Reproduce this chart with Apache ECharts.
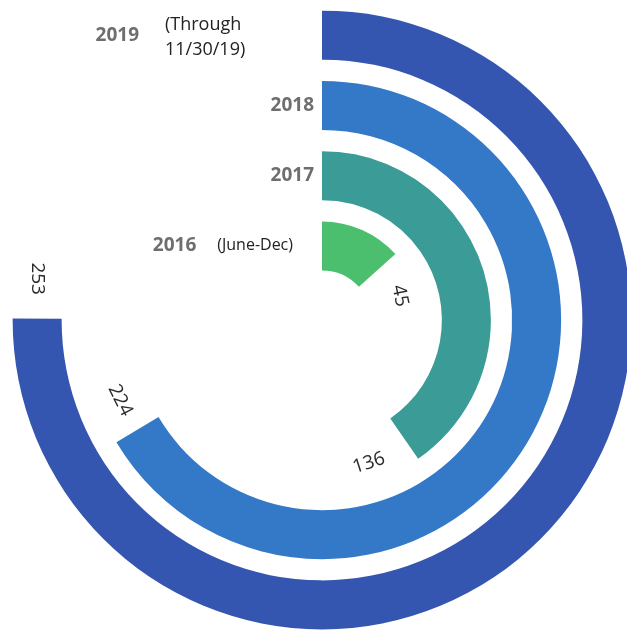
<!DOCTYPE html>
<html>
<head>
<meta charset="utf-8">
<script src="https://cdn.jsdelivr.net/npm/echarts@6/dist/echarts.min.js"></script>
<style>
  html, body { margin: 0; padding: 0; background: #ffffff; }
  #chart { width: 627px; height: 633px; }
</style>
</head>
<body>
<div id="chart"></div>
<script>
// Yearly totals, innermost ring first
const years = ['2016', '2017', '2018', '2019'];
const counts = [45, 136, 224, 253];
const ringColors = ['#4cbf6e', '#3a9b97', '#3478c8', '#3556b0'];
// Tilt of each value label (degrees, counter-clockwise positive)
const countLabelTilt = [-78, 18, -63, -90];
// How far past the end of its ring each value label sits (px)
const countLabelGap = [34, 43, 34, 40];

const chart = echarts.init(document.getElementById('chart'), null, { renderer: 'canvas' });

const labelFont = 'Open Sans';

const option = {
  animation: false,
  backgroundColor: '#ffffff',
  polar: {
    center: [322, 320],
    radius: [39, 320]
  },
  angleAxis: {
    type: 'value',
    min: 0,
    max: 337,
    startAngle: 90,
    clockwise: true,
    show: false
  },
  radiusAxis: {
    type: 'category',
    data: years,
    axisLine: { show: false },
    axisTick: { show: false },
    splitLine: { show: false },
    axisLabel: {
      interval: 0,
      hideOverlap: false,
      margin: 8,
      formatter: function (v) {
        if (v === '2016') return '{y16|' + v + '}{note|(June-Dec)}';
        if (v === '2019') return '{y19|' + v + '}';
        return '{y|' + v + '}';
      },
      rich: {
        y: { fontFamily: labelFont, fontWeight: 'bold', fontSize: 19, color: '#6e6e6e' },
        y16: { fontFamily: labelFont, fontWeight: 'bold', fontSize: 19, color: '#6e6e6e', padding: [0, 21, 0, 0] },
        y19: { fontFamily: labelFont, fontWeight: 'bold', fontSize: 19, color: '#6e6e6e', padding: [0, 175, 0, 0] },
        note: { fontFamily: labelFont, fontSize: 16, color: '#222222', padding: [0, 21, 0, 0] }
      }
    }
  },
  graphic: [{
    type: 'text',
    left: 165,
    top: 12,
    style: {
      text: '(Through\n11/30/19)',
      font: '18px "Open Sans"',
      lineHeight: 25,
      fill: '#222222'
    }
  }],
  series: [{
    type: 'bar',
    coordinateSystem: 'polar',
    barWidth: 49,
    data: counts.map(function (v, i) {
      return {
        value: v,
        itemStyle: { color: ringColors[i] },
        label: {
          // polar bar labels take this rotation in radians
          rotate: countLabelTilt[i] * Math.PI / 180,
          distance: countLabelGap[i]
        }
      };
    }),
    label: {
      show: true,
      position: 'end',
      align: 'center',
      verticalAlign: 'middle',
      color: '#2a2a2a',
      fontFamily: labelFont,
      fontSize: 19
    }
  }]
};

chart.setOption(option);
</script>
</body>
</html>
